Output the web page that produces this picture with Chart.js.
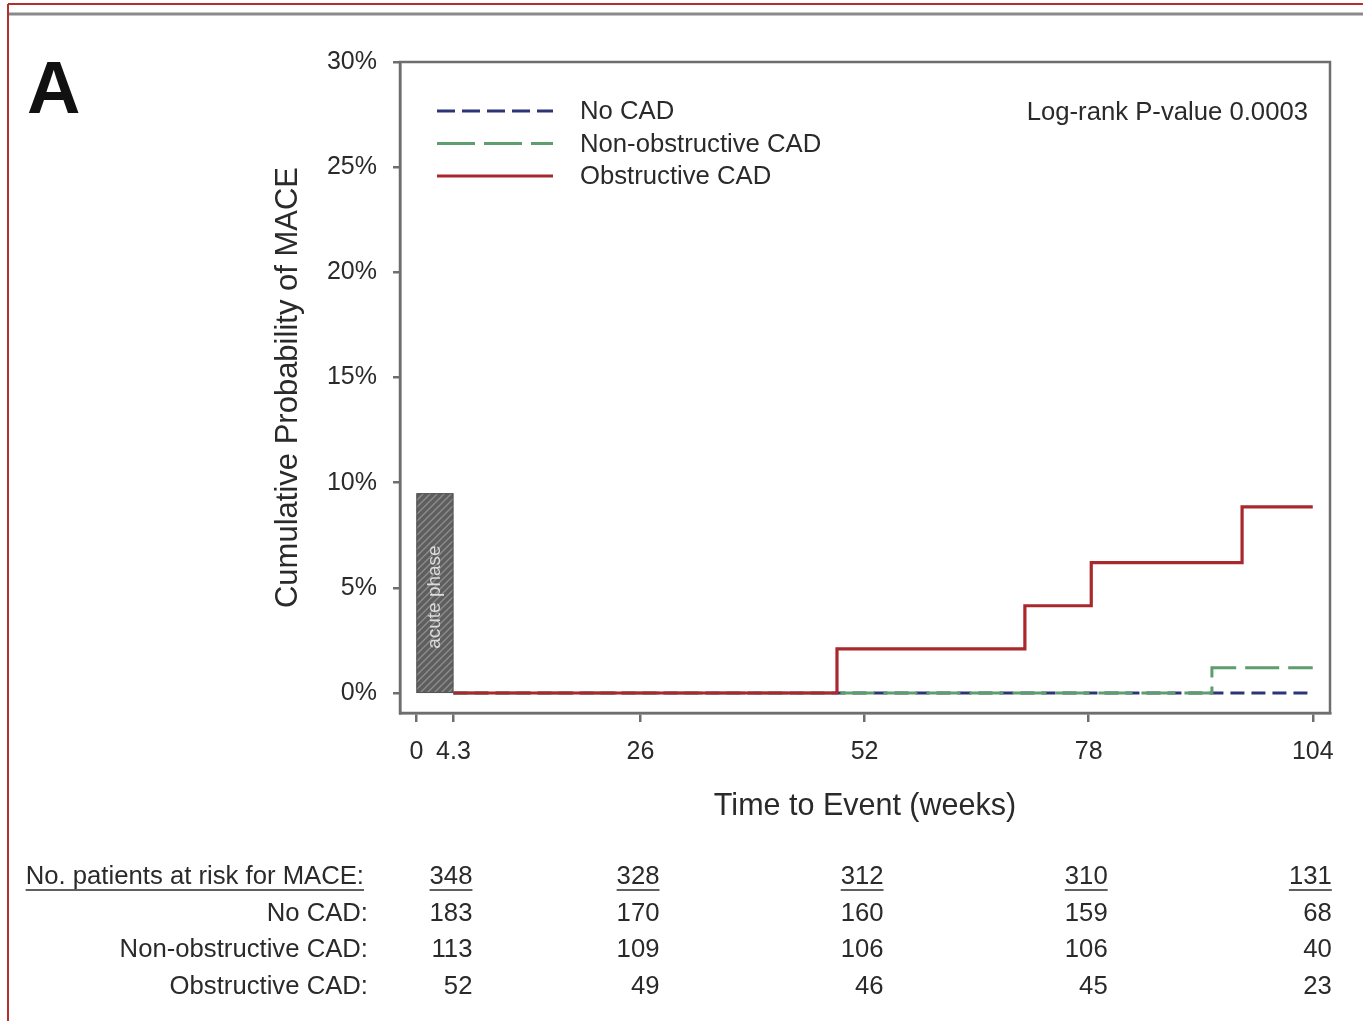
<!DOCTYPE html>
<html><head><meta charset="utf-8">
<script src="https://cdn.jsdelivr.net/npm/chart.js@4/dist/chart.umd.min.js"></script>
<style>html,body{margin:0;padding:0;background:#fff;overflow:hidden}canvas{display:block;filter:blur(0.45px)}</style>
</head><body>
<canvas id="c" width="1363" height="1021"></canvas>
<script>
// ---------- DATA ----------
const seriesNames = ['No CAD', 'Non-obstructive CAD', 'Obstructive CAD'];
const noCadWeeks = [4.3, 104];
const noCadProb = [0, 0];
const nonObsWeeks = [4.3, 92.3, 104];
const nonObsProb = [0, 1.2, 1.2];
const obsWeeks = [4.3, 48.8, 70.6, 78.3, 95.8, 104];
const obsProb = [0, 2.1, 4.15, 6.2, 8.85, 8.85];
const xTickValues = [0, 4.3, 26, 52, 78, 104];
const yTickValues = [0, 5, 10, 15, 20, 25, 30];
const acuteStart = 0, acuteEnd = 4.3, acuteTop = 9.5;
const acuteLabel = 'acute phase';
const riskWeeks = [4.3, 26, 52, 78, 104];
const riskTotal = [348, 328, 312, 310, 131];
const riskNoCad = [183, 170, 160, 159, 68];
const riskNonObs = [113, 109, 106, 106, 40];
const riskObs = [52, 49, 46, 45, 23];
const riskHeader = 'No. patients at risk for MACE:';
const riskLabels = ['No CAD:', 'Non-obstructive CAD:', 'Obstructive CAD:'];
const pValueText = 'Log-rank P-value 0.0003';
const panelLabel = 'A';
const xTitle = 'Time to Event (weeks)';
const yTitle = 'Cumulative Probability of MACE';

// ---------- STYLE ----------
const FAM = "'Liberation Sans', Arial, Helvetica, sans-serif";
const TXT = '#2a2a2a';
const AX = '#6e6e6e';
const colors = ['#2c3476', '#5e9e6e', '#a8282c'];
const dashes = [[14, 7], [34, 9], []];
const orders = [3, 2, 1];

Chart.defaults.font.family = FAM;
Chart.defaults.color = TXT;

function zip(xs, ys) { return xs.map((x, i) => ({x: x, y: ys[i]})); }
const seriesData = [zip(noCadWeeks, noCadProb), zip(nonObsWeeks, nonObsProb), zip(obsWeeks, obsProb)];

const datasets = seriesNames.map((n, i) => ({
  label: n,
  data: seriesData[i],
  borderColor: colors[i],
  backgroundColor: colors[i],
  borderWidth: i === 2 ? 3.2 : 3,
  borderDash: dashes[i],
  stepped: 'before',
  pointRadius: 0,
  fill: false,
  order: orders[i]
}));

function hatchPattern(ctx) {
  const p = document.createElement('canvas');
  p.width = 7; p.height = 7;
  const g = p.getContext('2d');
  g.fillStyle = '#5e5e5e';
  g.fillRect(0, 0, 7, 7);
  g.strokeStyle = '#8e8e8e';
  g.lineWidth = 1.3;
  g.beginPath();
  g.moveTo(-1, 8); g.lineTo(8, -1);
  g.moveTo(-4, 4); g.lineTo(4, -4);
  g.moveTo(3, 11); g.lineTo(11, 3);
  g.stroke();
  return ctx.createPattern(p, 'repeat');
}

const decor = {
  id: 'decor',
  beforeDraw(chart) {
    const ctx = chart.ctx;
    ctx.save();
    ctx.fillStyle = '#fff';
    ctx.fillRect(0, 0, chart.width, chart.height);
    ctx.strokeStyle = '#b3302c';
    ctx.lineWidth = 2;
    ctx.beginPath();
    ctx.moveTo(8, 4); ctx.lineTo(chart.width, 4);
    ctx.moveTo(8, 4); ctx.lineTo(8, chart.height);
    ctx.stroke();
    ctx.strokeStyle = '#8a8a8a';
    ctx.lineWidth = 3;
    ctx.beginPath();
    ctx.moveTo(9, 14); ctx.lineTo(chart.width, 14);
    ctx.stroke();
    ctx.fillStyle = '#111';
    ctx.font = 'bold 74px ' + FAM;
    ctx.textAlign = 'left';
    ctx.textBaseline = 'alphabetic';
    ctx.fillText(panelLabel, 27, 113);
    ctx.restore();
  },
  beforeDatasetsDraw(chart) {
    const ctx = chart.ctx, xs = chart.scales.x, ys = chart.scales.y;
    const x0 = xs.getPixelForValue(acuteStart), x1 = xs.getPixelForValue(acuteEnd);
    const y0 = ys.getPixelForValue(acuteTop), y1 = ys.getPixelForValue(0);
    ctx.save();
    ctx.fillStyle = hatchPattern(ctx);
    ctx.fillRect(x0, y0, x1 - x0, y1 - y0);
    ctx.strokeStyle = '#555';
    ctx.lineWidth = 1;
    ctx.strokeRect(x0 + 0.5, y0 + 0.5, x1 - x0 - 1, y1 - y0 - 1);
    ctx.translate((x0 + x1) / 2, y0 + (y1 - y0) * 0.52);
    ctx.rotate(-Math.PI / 2);
    ctx.fillStyle = '#dcdcdc';
    ctx.font = '19px ' + FAM;
    ctx.textAlign = 'center';
    ctx.textBaseline = 'middle';
    ctx.fillText(acuteLabel, 0, 0);
    ctx.restore();
  },
  afterDraw(chart) {
    const ctx = chart.ctx, a = chart.chartArea, xs = chart.scales.x;
    ctx.save();
    ctx.strokeStyle = AX;
    ctx.lineWidth = 2.5;
    ctx.strokeRect(a.left, a.top, a.right - a.left, a.bottom - a.top);
    // legend
    [0, 1, 2].forEach((i, k) => {
      const y = a.top + 49 + k * 32.5;
      ctx.strokeStyle = colors[i];
      ctx.lineWidth = 3;
      ctx.setLineDash(dashes[i].length ? [dashes[i][0] + 4, dashes[i][1]] : []);
      ctx.beginPath();
      ctx.moveTo(a.left + 37, y); ctx.lineTo(a.left + 153, y);
      ctx.stroke();
      ctx.setLineDash([]);
      ctx.fillStyle = TXT;
      ctx.font = '25.7px ' + FAM;
      ctx.textAlign = 'left';
      ctx.textBaseline = 'middle';
      ctx.fillText(seriesNames[i], a.left + 180, y + 1);
    });
    // p-value
    ctx.font = '25.7px ' + FAM;
    ctx.textAlign = 'right';
    ctx.textBaseline = 'middle';
    ctx.fillStyle = TXT;
    ctx.fillText(pValueText, a.right - 22, a.top + 51);
    // risk table
    const rowY0 = 877, rowStep = 36.7, labelRight = 366;
    ctx.font = '25.7px ' + FAM;
    ctx.textBaseline = 'middle';
    ctx.textAlign = 'right';
    const hw = ctx.measureText(riskHeader).width;
    ctx.fillText(riskHeader, labelRight - 2, rowY0);
    ctx.strokeStyle = TXT;
    ctx.lineWidth = 1.6;
    ctx.beginPath();
    ctx.moveTo(labelRight - 2 - hw, rowY0 + 13); ctx.lineTo(labelRight - 2, rowY0 + 13);
    ctx.stroke();
    riskLabels.forEach((l, r) => ctx.fillText(l, labelRight + 2, rowY0 + (r + 1) * rowStep));
    const rows = [riskTotal, riskNoCad, riskNonObs, riskObs];
    riskWeeks.forEach((w, c) => {
      const xr = xs.getPixelForValue(w) + 19;
      rows.forEach((row, r) => {
        const s = String(row[c]);
        const y = rowY0 + r * rowStep;
        ctx.fillText(s, xr, y);
        if (r === 0) {
          const tw = ctx.measureText(s).width;
          ctx.beginPath();
          ctx.moveTo(xr - tw, y + 13); ctx.lineTo(xr, y + 13);
          ctx.stroke();
        }
      });
    });
    ctx.restore();
  }
};

new Chart(document.getElementById('c'), {
  type: 'line',
  data: { datasets: datasets },
  plugins: [decor],
  options: {
    responsive: false,
    devicePixelRatio: 1,
    animation: false,
    layout: { padding: { left: 270, right: 33, top: 62, bottom: 197 } },
    plugins: { legend: { display: false }, tooltip: { enabled: false } },
    scales: {
      x: {
        type: 'linear', min: -1.9, max: 106,
        afterBuildTicks: s => { s.ticks = xTickValues.map(v => ({value: v})); },
        afterFit: s => { s.height = 111; },
        ticks: { callback: v => String(v), font: { size: 25 }, color: TXT, padding: 15, autoSkip: false, maxRotation: 0 },
        grid: { drawOnChartArea: false, tickLength: 9, color: AX, lineWidth: 2.5 },
        border: { display: true, color: AX, width: 2.5 },
        title: { display: true, text: xTitle, font: { size: 30.5 }, color: TXT, padding: { top: 0, bottom: -1 } }
      },
      y: {
        type: 'linear', min: -0.95, max: 30,
        afterBuildTicks: s => { s.ticks = yTickValues.map(v => ({value: v})); },
        afterFit: s => { s.width = 130; },
        ticks: { callback: v => v + '%', font: { size: 25 }, color: TXT, padding: 16 },
        grid: { drawOnChartArea: false, tickLength: 7, color: AX, lineWidth: 2.5 },
        border: { display: true, color: AX, width: 2.5 },
        title: { display: true, text: yTitle, font: { size: 31 }, color: TXT, padding: 0 }
      }
    }
  }
});
</script>
</body></html>
